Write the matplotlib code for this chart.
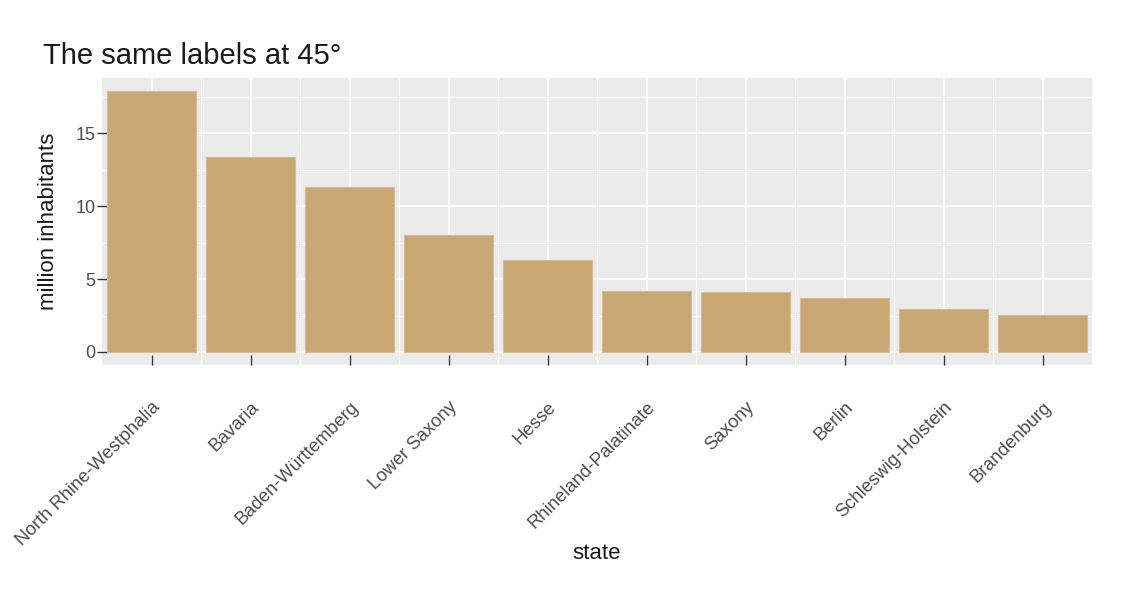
import matplotlib
matplotlib.use("Agg")
import matplotlib.pyplot as plt
import numpy as np

# population by state, million inhabitants
states = ["North Rhine-Westphalia", "Bavaria", "Baden-Württemberg",
          "Lower Saxony", "Hesse", "Rhineland-Palatinate", "Saxony",
          "Berlin", "Schleswig-Holstein", "Brandenburg"]
inhabitants = [17.9, 13.4, 11.3, 8.0, 6.3, 4.2, 4.1, 3.7, 2.95, 2.55]
y_ticks = [0, 5, 10, 15]

plt.rcParams['font.family'] = ['Liberation Sans', 'DejaVu Sans']

fig = plt.figure(figsize=(11.25, 6), dpi=100)
ax = fig.add_axes([102 / 1125, 1 - 365 / 600, 990 / 1125, 287 / 600])

x = np.arange(len(states))
ax.bar(x, inhabitants, width=0.9, color='#C9A774', edgecolor='#D6BC92',
       linewidth=0.8, zorder=3)

ymax = max(inhabitants)
ax.set_xlim(-0.5, len(states) - 0.5)
ax.set_ylim(-0.05 * ymax, 1.05 * ymax)

# ggplot-like panel
ax.set_facecolor('#EBEBEB')
for s in ax.spines.values():
    s.set_visible(False)
ax.set_yticks(y_ticks)
ax.set_yticks([2.5, 7.5, 12.5, 17.5], minor=True)
ax.set_xticks(x)
ax.set_xticks(x[:-1] + 0.5, minor=True)
ax.grid(which='major', color='white', linewidth=1.3, zorder=0)
ax.grid(which='minor', color='white', linewidth=0.7, zorder=0)
ax.set_axisbelow(True)

ax.set_xticklabels(states, rotation=45, ha='right', va='top',
                   rotation_mode='anchor', fontsize=13.3, color='#4D4D4D')
ax.tick_params(axis='x', which='major', direction='in', length=7,
               width=1, color='#333333', pad=24)
ax.tick_params(axis='y', which='major', direction='inout', length=7,
               width=1, color='#333333', pad=1, labelsize=13,
               labelcolor='#4D4D4D')
ax.tick_params(which='minor', length=0)

ax.set_xlabel('state', fontsize=16, color='#1A1A1A')
ax.xaxis.set_label_coords(0.5, -0.62)
ax.set_ylabel('million inhabitants', fontsize=16, color='#1A1A1A')
ax.yaxis.set_label_coords(-0.043, 0.5)

fig.text(43 / 1125, 1 - 64 / 600, 'The same labels at 45°', fontsize=21,
         color='#1A1A1A', va='baseline', ha='left')

fig.savefig('out.png', dpi=100)
